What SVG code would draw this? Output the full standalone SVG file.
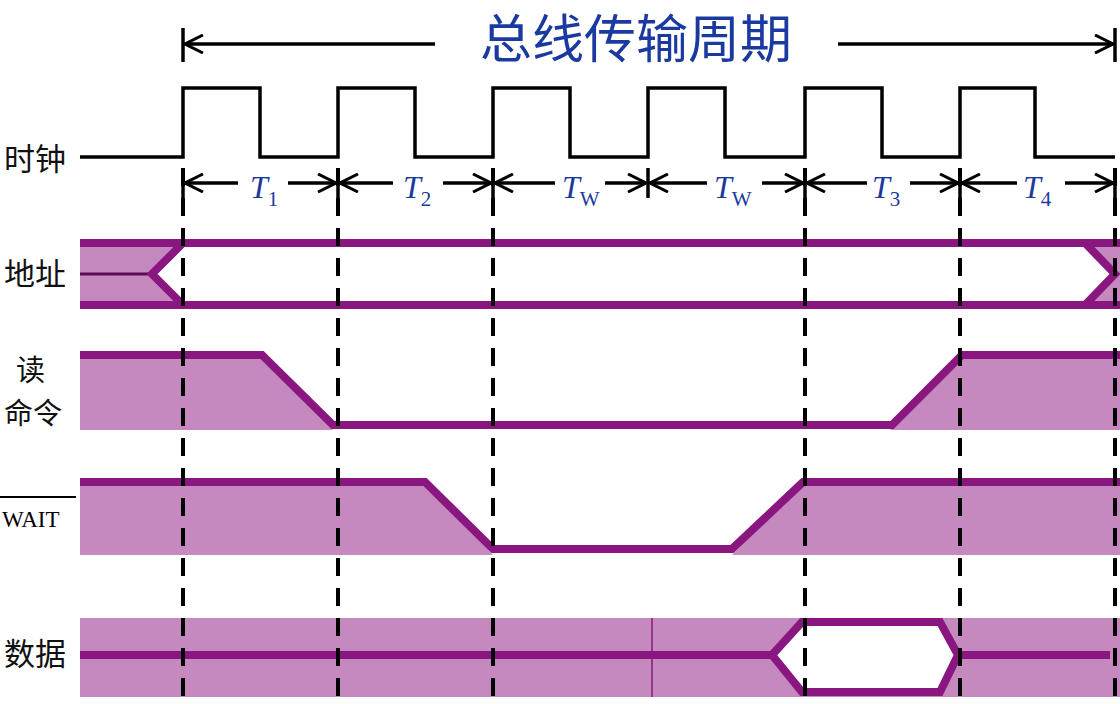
<svg xmlns="http://www.w3.org/2000/svg" width="1120" height="704" viewBox="0 0 1120 704">
<defs>
<marker id="ah" viewBox="0 0 20 20" refX="19" refY="10" markerWidth="20" markerHeight="20" markerUnits="userSpaceOnUse" orient="auto-start-reverse"><path d="M1,1 L19,10 L1,19" fill="none" stroke="#000" stroke-width="3"/></marker>
</defs>
<style>
.lbl{font-family:"Noto Sans CJK SC",sans-serif;font-size:31px;fill:#111}
.t{font-family:"Liberation Serif",serif;font-style:italic;font-size:32px;fill:#1a3aa0}
.s{font-size:21px;font-style:normal}
.blk{stroke:#000;stroke-width:3.5;fill:none}
.dash{stroke:#000;stroke-width:4;stroke-dasharray:18 12;fill:none}
.pl{stroke:#8a1780;stroke-width:8;fill:none;stroke-linejoin:miter}
.fill{fill:#c589c0}
.thin{stroke:#8a1780;stroke-width:1.5}
</style>
<rect width="1120" height="704" fill="#fff"/>
<g id="labels">
<text class="lbl" x="4" y="170">时钟</text>
<text class="lbl" x="4" y="285">地址</text>
<text class="lbl" x="16" y="381" style="font-size:29px">读</text>
<text class="lbl" x="4" y="424" style="font-size:29px">命令</text>
<text x="2" y="527" style="font-family:'Liberation Serif',serif;font-size:23px">WAIT</text>
<line x1="0" y1="497" x2="76" y2="497" stroke="#000" stroke-width="2"/>
<text class="lbl" x="4" y="665">数据</text>
<text x="636" y="58" text-anchor="middle" style="font-family:'Noto Sans CJK SC',sans-serif;font-size:52px;fill:#1a3aa0">总线传输周期</text>
</g>
<g id="period">
<line class="blk" x1="183" y1="28" x2="183" y2="62"/>
<line class="blk" x1="1115" y1="28" x2="1115" y2="62"/>
<line class="blk" x1="435" y1="44" x2="185" y2="44" marker-end="url(#ah)"/>
<line class="blk" x1="838" y1="44" x2="1113" y2="44" marker-end="url(#ah)"/>
</g>
<g id="clock">
<path class="blk" stroke-width="4" d="M80,157 H183 V88 H260 V157 H338 V88 H415 V157 H493 V88 H570 V157 H648 V88 H725 V157 H805 V88 H882 V157 H960 V88 H1035 V157 H1115"/>
</g>
<g id="cycles">
<g class="blk">
<line x1="183" y1="168" x2="183" y2="198"/><line x1="338" y1="168" x2="338" y2="198"/><line x1="493" y1="168" x2="493" y2="198"/><line x1="648" y1="168" x2="648" y2="198"/><line x1="805" y1="168" x2="805" y2="198"/><line x1="960" y1="168" x2="960" y2="198"/><line x1="1115" y1="168" x2="1115" y2="198"/>
</g>
<g class="blk" marker-end="url(#ah)">
<line x1="238" y1="183" x2="185" y2="183"/><line x1="288" y1="183" x2="336" y2="183"/>
<line x1="393" y1="183" x2="340" y2="183"/><line x1="443" y1="183" x2="491" y2="183"/>
<line x1="555" y1="183" x2="495" y2="183"/><line x1="605" y1="183" x2="646" y2="183"/>
<line x1="707" y1="183" x2="650" y2="183"/><line x1="762" y1="183" x2="803" y2="183"/>
<line x1="867" y1="183" x2="807" y2="183"/><line x1="910" y1="183" x2="958" y2="183"/>
<line x1="1017" y1="183" x2="962" y2="183"/><line x1="1065" y1="183" x2="1113" y2="183"/>
</g>
<text class="t" x="250" y="198">T<tspan class="s" dy="8">1</tspan></text>
<text class="t" x="403" y="198">T<tspan class="s" dy="8">2</tspan></text>
<text class="t" x="562" y="198">T<tspan class="s" dy="8">W</tspan></text>
<text class="t" x="714" y="198">T<tspan class="s" dy="8">W</tspan></text>
<text class="t" x="872" y="198">T<tspan class="s" dy="8">3</tspan></text>
<text class="t" x="1023" y="198">T<tspan class="s" dy="8">4</tspan></text>
</g>
<g id="address">
<polygon class="fill" points="80,239 183,239 150,274 183,309 80,309"/>
<polygon class="fill" points="1120,239 1083,239 1115,274 1083,309 1120,309"/>
<line x1="80" y1="274" x2="150" y2="274" stroke="#5a0f55" stroke-width="3"/>
<path class="pl" d="M80,243 H1120 M80,305 H1120 M183,243 L152,274 L183,305 M1085,243 L1115,274 L1085,305"/>
</g>
<g id="read">
<polygon class="fill" points="80,355 262,355 333,430 80,430"/>
<polygon class="fill" points="890,430 960,355 1120,355 1120,430"/>
<path class="pl" d="M80,355 H262 L333,425 H892 L962,355 H1120"/>
</g>
<g id="wait">
<polygon class="fill" points="80,482 425,482 493,555 80,555"/>
<polygon class="fill" points="732,555 803,482 1120,482 1120,555"/>
<path class="pl" d="M80,482 H425 L493,549 H732 L803,482 H1120"/>
</g>
<g id="data">
<polygon class="fill" points="80,618 1120,618 1120,697 80,697"/>
<line class="thin" x1="652" y1="618" x2="652" y2="697"/>
<polygon points="772,655 802,622 940,622 958,655 940,692 802,692" fill="#fff" stroke="#8a1780" stroke-width="8"/>
<path class="pl" d="M80,655 H772 M958,655 H1110"/>
</g>
<g id="guides" class="dash">
<line x1="183" y1="168" x2="183" y2="704"/><line x1="338" y1="168" x2="338" y2="704"/><line x1="493" y1="168" x2="493" y2="704"/><line x1="805" y1="168" x2="805" y2="704"/><line x1="960" y1="168" x2="960" y2="704"/><line x1="1115" y1="168" x2="1115" y2="704"/>
</g>
</svg>
